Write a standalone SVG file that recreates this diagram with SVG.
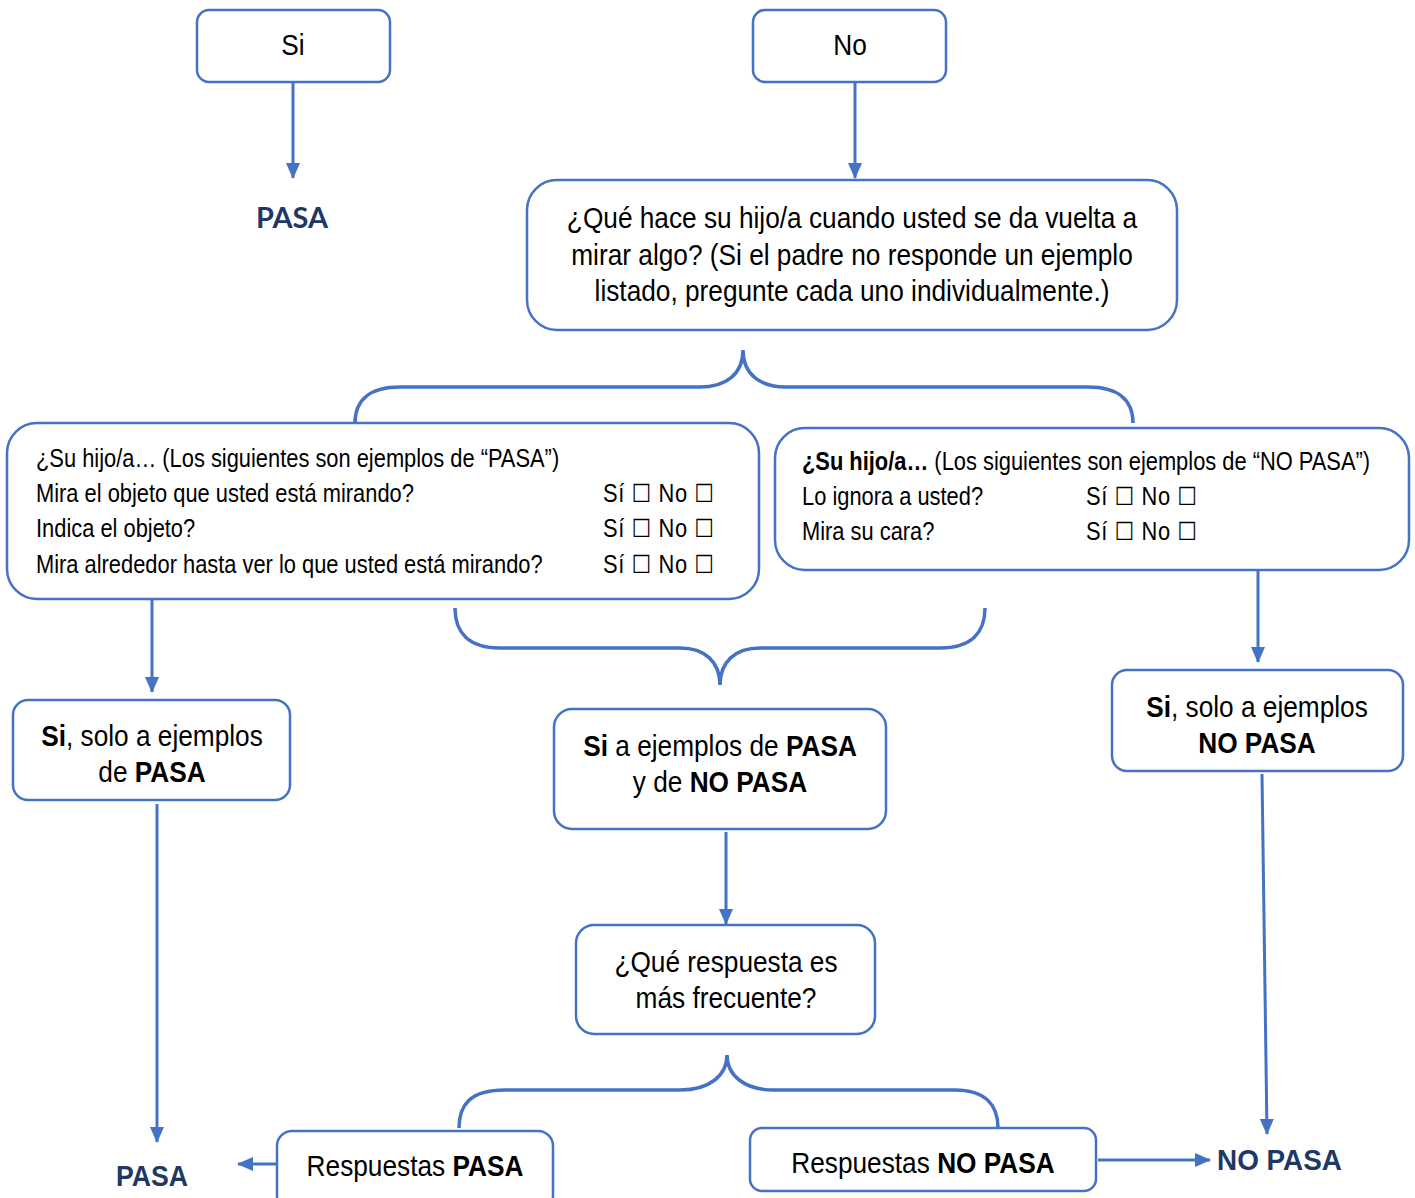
<svg xmlns="http://www.w3.org/2000/svg" width="1415" height="1198" viewBox="0 0 1415 1198">
<defs>
<style>
.box{fill:#fff;stroke:#4472C4;stroke-width:2.5}
.ln{fill:none;stroke:#4472C4;stroke-width:3}
.br{fill:none;stroke:#4472C4;stroke-width:3.5}
.t{font-family:"Liberation Sans","Arial",sans-serif;fill:#000}
.c{text-anchor:middle}
.b{font-weight:bold}
.s30{font-size:30px}
.s24{font-size:25px}
.chk{font-family:"Liberation Sans","DejaVu Sans",sans-serif}
.nav{font-family:"Liberation Sans","Arial",sans-serif;font-weight:bold;fill:#203864;font-size:30px}
.nav2{font-family:"Lato","Open Sans",sans-serif;font-weight:bold;fill:#203864;font-size:28px}
</style>
<marker id="ah" markerUnits="userSpaceOnUse" markerWidth="16" markerHeight="16" viewBox="0 0 16 16" refX="15" refY="8" orient="auto">
<path d="M0,1 L16,8 L0,15 Z" fill="#4472C4"/>
</marker>
</defs>
<rect width="1415" height="1198" fill="#fff"/>

<g id="connectors">
<line class="ln" x1="293" y1="82" x2="293" y2="178" marker-end="url(#ah)"/>
<line class="ln" x1="855" y1="82" x2="855" y2="178" marker-end="url(#ah)"/>
<path class="br" d="M355,423 C355,400 370,387 400,387 L700,387 C725,387 743,375 743,350 C743,375 761,387 786,387 L1088,387 C1118,387 1133,400 1133,423"/>
<line class="ln" x1="152" y1="599" x2="152" y2="692" marker-end="url(#ah)"/>
<path class="br" d="M455,608 C455,632 468,648 500,648 L680,648 C705,648 720,662 720,685 C720,662 735,648 760,648 L940,648 C972,648 985,632 985,608"/>
<line class="ln" x1="1258" y1="570" x2="1258" y2="662" marker-end="url(#ah)"/>
<line class="ln" x1="726" y1="832" x2="726" y2="924" marker-end="url(#ah)"/>
<line class="ln" x1="157" y1="804" x2="157" y2="1142" marker-end="url(#ah)"/>
<line class="ln" x1="1262" y1="774" x2="1267" y2="1134" marker-end="url(#ah)"/>
<path class="br" d="M459,1128 C459,1105 470,1090 505,1090 L680,1090 C710,1090 727,1075 727,1055 C727,1075 744,1090 774,1090 L955,1090 C985,1090 998,1105 998,1128"/>
<line class="ln" x1="277" y1="1164" x2="238" y2="1164" marker-end="url(#ah)"/>
<line class="ln" x1="1098" y1="1160" x2="1210" y2="1160" marker-end="url(#ah)"/>
</g>

<g id="si">
<rect class="box" x="197" y="10" width="193" height="72" rx="12"/>
<text class="t c s30" transform="translate(293,55) scale(0.875,1)">Si</text>
</g>
<g id="no">
<rect class="box" x="753" y="10" width="193" height="72" rx="12"/>
<text class="t c s30" transform="translate(850,55) scale(0.875,1)">No</text>
</g>
<g id="pasa-top">
<text class="nav2" x="256" y="228" textLength="72" lengthAdjust="spacingAndGlyphs">PASA</text>
</g>
<g id="pregunta">
<rect class="box" x="527" y="180" width="650" height="150" rx="30"/>
<text class="t c s30" transform="translate(852,228) scale(0.875,1)">¿Qué hace su hijo/a cuando usted se da vuelta a</text>
<text class="t c s30" transform="translate(852,265) scale(0.875,1)">mirar algo? (Si el padre no responde un ejemplo</text>
<text class="t c s30" transform="translate(852,301) scale(0.875,1)">listado, pregunte cada uno individualmente.)</text>
</g>
<g id="ejemplos-pasa">
<rect class="box" x="7" y="423" width="752" height="176" rx="30"/>
<text class="t s24" transform="translate(36,467) scale(0.875,1)">¿Su hijo/a… (Los siguientes son ejemplos de “PASA”)</text>
<text class="t s24" transform="translate(36,502) scale(0.875,1)">Mira el objeto que usted está mirando?</text>
<text class="t s24" transform="translate(36,537) scale(0.875,1)">Indica el objeto?</text>
<text class="t s24" transform="translate(36,573) scale(0.875,1)">Mira alrededor hasta ver lo que usted está mirando?</text>
<text class="t s24 chk" transform="translate(603,502) scale(0.875,1)" textLength="127" lengthAdjust="spacing">Sí ☐ No ☐</text>
<text class="t s24 chk" transform="translate(603,537) scale(0.875,1)" textLength="127" lengthAdjust="spacing">Sí ☐ No ☐</text>
<text class="t s24 chk" transform="translate(603,573) scale(0.875,1)" textLength="127" lengthAdjust="spacing">Sí ☐ No ☐</text>
</g>
<g id="ejemplos-nopasa">
<rect class="box" x="775" y="428" width="634" height="142" rx="30"/>
<text class="t s24" transform="translate(802,470) scale(0.875,1)"><tspan class="b">¿Su hijo/a…</tspan> (Los siguientes son ejemplos de “NO PASA”)</text>
<text class="t s24" transform="translate(802,505) scale(0.875,1)">Lo ignora a usted?</text>
<text class="t s24" transform="translate(802,540) scale(0.875,1)">Mira su cara?</text>
<text class="t s24 chk" transform="translate(1086,505) scale(0.875,1)" textLength="127" lengthAdjust="spacing">Sí ☐ No ☐</text>
<text class="t s24 chk" transform="translate(1086,540) scale(0.875,1)" textLength="127" lengthAdjust="spacing">Sí ☐ No ☐</text>
</g>
<g id="solo-pasa">
<rect class="box" x="13" y="700" width="277" height="100" rx="15"/>
<text class="t c s30" transform="translate(152,746) scale(0.875,1)"><tspan class="b">Si</tspan>, solo a ejemplos</text>
<text class="t c s30" transform="translate(152,782) scale(0.875,1)">de <tspan class="b">PASA</tspan></text>
</g>
<g id="ambos">
<rect class="box" x="554" y="709" width="332" height="120" rx="18"/>
<text class="t c s30" transform="translate(720,756) scale(0.875,1)"><tspan class="b">Si</tspan> a ejemplos de <tspan class="b">PASA</tspan></text>
<text class="t c s30" transform="translate(720,792) scale(0.875,1)">y de <tspan class="b">NO PASA</tspan></text>
</g>
<g id="solo-nopasa">
<rect class="box" x="1112" y="670" width="291" height="101" rx="15"/>
<text class="t c s30" transform="translate(1257,717) scale(0.875,1)"><tspan class="b">Si</tspan>, solo a ejemplos</text>
<text class="t c s30 b" transform="translate(1257,753) scale(0.875,1)">NO PASA</text>
</g>
<g id="frecuente">
<rect class="box" x="576" y="925" width="299" height="109" rx="18"/>
<text class="t c s30" transform="translate(726,972) scale(0.875,1)">¿Qué respuesta es</text>
<text class="t c s30" transform="translate(726,1008) scale(0.875,1)">más frecuente?</text>
</g>
<g id="resp-pasa">
<rect class="box" x="277" y="1131" width="276" height="80" rx="15"/>
<text class="t c s30" transform="translate(415,1176) scale(0.875,1)">Respuestas <tspan class="b">PASA</tspan></text>
</g>
<g id="resp-nopasa">
<rect class="box" x="750" y="1128" width="346" height="63" rx="12"/>
<text class="t c s30" transform="translate(923,1173) scale(0.875,1)">Respuestas <tspan class="b">NO PASA</tspan></text>
</g>
<g id="pasa-bottom">
<text class="nav" x="116" y="1186" textLength="72" lengthAdjust="spacingAndGlyphs">PASA</text>
</g>
<g id="nopasa-bottom">
<text class="nav" x="1217" y="1170" textLength="125" lengthAdjust="spacingAndGlyphs">NO PASA</text>
</g>
</svg>
